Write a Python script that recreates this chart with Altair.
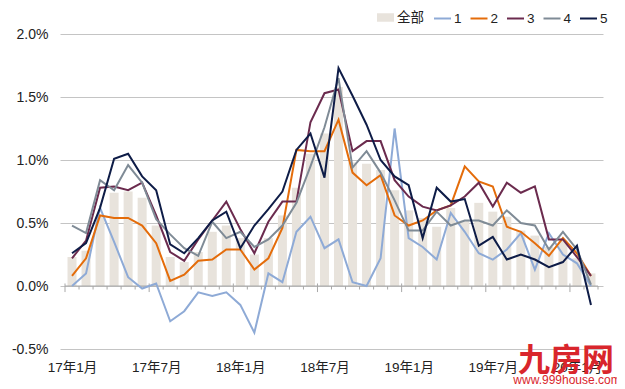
import json
import altair as alt
import pandas as pd

# ---------------- data ----------------
tick_labels = ["17年1月", "17年7月", "18年1月", "18年7月", "19年1月", "19年7月", "20年1月"]
n_months = 38  # 2017-01 .. 2020-02

all_vals = [0.23, 0.28, 0.55, 0.74, 0.75, 0.70, 0.48, 0.23, 0.19, 0.27,
            0.43, 0.48, 0.38, 0.25, 0.38, 0.56, 0.78, 1.05, 1.21, 1.58,
            0.98, 0.97, 0.92, 0.76, 0.60, 0.54, 0.47, 0.62, 0.52, 0.66,
            0.59, 0.55, 0.44, 0.40, 0.31, 0.36, 0.22, 0.10]
s1 = [0.00, 0.10, 0.62, 0.35, 0.07, -0.02, 0.02, -0.28, -0.20, -0.05,
      -0.08, -0.05, -0.15, -0.37, 0.10, 0.03, 0.43, 0.55, 0.30, 0.37,
      0.03, 0.00, 0.22, 1.25, 0.38, 0.31, 0.21, 0.58, 0.43, 0.26,
      0.21, 0.29, 0.42, 0.13, 0.42, 0.25, 0.18, 0.00]
s2 = [0.08, 0.22, 0.56, 0.54, 0.54, 0.48, 0.34, 0.04, 0.09, 0.20,
      0.21, 0.29, 0.29, 0.13, 0.22, 0.46, 1.08, 1.07, 1.07, 1.32,
      0.90, 0.80, 0.88, 0.56, 0.48, 0.52, 0.60, 0.64, 0.95, 0.83,
      0.79, 0.47, 0.43, 0.34, 0.24, 0.38, 0.26, 0.08]
s3 = [0.22, 0.36, 0.78, 0.79, 0.76, 0.82, 0.56, 0.27, 0.20, 0.37,
      0.52, 0.67, 0.45, 0.26, 0.51, 0.67, 0.67, 1.30, 1.53, 1.56,
      1.07, 1.15, 1.15, 0.84, 0.71, 0.63, 0.60, 0.64, 0.71, 0.82,
      0.63, 0.82, 0.74, 0.79, 0.37, 0.37, 0.23, 0.08]
s4 = [0.48, 0.42, 0.84, 0.76, 0.96, 0.82, 0.53, 0.41, 0.30, 0.24,
      0.51, 0.38, 0.43, 0.31, 0.37, 0.48, 0.66, 0.95, 1.26, 1.65,
      0.94, 1.07, 0.90, 0.68, 0.44, 0.44, 0.59, 0.48, 0.52, 0.52,
      0.48, 0.60, 0.50, 0.48, 0.29, 0.43, 0.29, 0.01]
s5 = [0.26, 0.34, 0.62, 1.01, 1.05, 0.87, 0.76, 0.33, 0.26, 0.38,
      0.52, 0.59, 0.30, 0.48, 0.61, 0.75, 1.08, 1.21, 0.86, 1.73,
      1.51, 1.28, 1.00, 0.87, 0.80, 0.38, 0.78, 0.67, 0.69, 0.32,
      0.39, 0.21, 0.25, 0.21, 0.15, 0.19, 0.32, -0.15]

bar_name = "全部"
series_names = ["1", "2", "3", "4", "5"]
series_vals = [s1, s2, s3, s4, s5]
series_colors = ["#8eaad6", "#e46c0a", "#6b2b4e", "#7f8b96", "#0e1c47"]
bar_color = "#e8e3dc"
y_ticks = [-0.5, 0.0, 0.5, 1.0, 1.5, 2.0]
watermark = "九房网"
watermark_url = "www.999house.com"

FONT = "Liberation Sans, Arial, Noto Sans CJK SC"
TXT = "#222222"

# ---------------- tables ----------------
idx = list(range(n_months))
bar_df = pd.DataFrame({"k": idx, "v": all_vals, "s": bar_name})
line_df = pd.DataFrame(
    [{"k": i, "v": v, "s": name, "o": j}
     for j, (name, vals) in enumerate(zip(series_names, series_vals))
     for i, v in enumerate(vals)]
)
tick_df = pd.DataFrame({
    "b": [i - 0.5 for i in range(n_months + 1)],
    "top": [0.02 if i % 6 == 0 else 0.0 for i in range(n_months + 1)],
    "bot": [-0.048 if i % 6 == 0 else -0.028 for i in range(n_months + 1)],
})
zero_df = pd.DataFrame({"x0": [-0.5], "x1": [n_months - 0.5], "y": [0.0]})

xscale = alt.Scale(domain=[-0.5, n_months - 0.5], nice=False, zero=False)
yscale = alt.Scale(domain=[-0.5, 2.0], nice=False, zero=False)

label_arr = json.dumps(tick_labels, ensure_ascii=False)
x_axis = alt.Axis(
    values=[i * 6 for i in range(len(tick_labels))],
    labelExpr=f"{label_arr}[round(datum.value/6)]",
    grid=False, ticks=False, domain=False, title=None,
    labelFont=FONT, labelFontSize=13.5, labelColor=TXT, labelPadding=11,
    labelFlush=False, labelOverlap=False,
)
y_axis = alt.Axis(
    values=y_ticks,
    labelExpr="(datum.value < 0 ? '-' : '') + format(abs(datum.value), '.1f') + '%'",
    grid=True, gridColor="#c4c4c4", gridWidth=1, ticks=False, domain=False,
    title=None, labelFont=FONT, labelFontSize=14, labelColor=TXT, labelPadding=12,
)

bars = alt.Chart(bar_df).mark_bar(size=9).encode(
    x=alt.X("k:Q", scale=xscale, axis=x_axis),
    y=alt.Y("v:Q", scale=yscale, axis=y_axis),
    fill=alt.Fill(
        "s:N",
        scale=alt.Scale(domain=[bar_name], range=[bar_color]),
        legend=alt.Legend(
            title=None, orient="none", legendX=317, legendY=-25,
            direction="horizontal",
            symbolType="M-1,-0.5H1V0.5H-1Z", symbolSize=289,
            symbolStrokeWidth=0, labelOffset=3,
            labelFont=FONT, labelFontSize=13.5, labelColor=TXT, padding=0,
        ),
    ),
)

zero = alt.Chart(zero_df).mark_rule(color="#a8a8a8", strokeWidth=1).encode(
    x=alt.X("x0:Q", scale=xscale), x2="x1:Q", y=alt.Y("y:Q", scale=yscale)
)
ticks = alt.Chart(tick_df).mark_rule(color="#a8a8a8", strokeWidth=1).encode(
    x=alt.X("b:Q", scale=xscale), y=alt.Y("top:Q", scale=yscale), y2="bot:Q"
)

lines = alt.Chart(line_df).mark_line(strokeWidth=2).encode(
    x=alt.X("k:Q", scale=xscale),
    y=alt.Y("v:Q", scale=yscale),
    order=alt.Order("k:Q"),
    stroke=alt.Stroke(
        "s:N",
        scale=alt.Scale(domain=series_names, range=series_colors),
        legend=alt.Legend(
            title=None, orient="none", legendX=373, legendY=-25,
            direction="horizontal", symbolType="stroke", symbolSize=289,
            symbolStrokeWidth=2, labelOffset=2, columnPadding=4.5,
            labelFont=FONT, labelFontSize=13.5, labelColor=TXT, padding=0,
        ),
    ),
)

wm = alt.Chart(pd.DataFrame({"t": [watermark]})).mark_text(
    font="Noto Sans CJK SC", fontSize=32, fontWeight="bold", color="#d9262c",
    align="center", baseline="alphabetic",
).encode(text="t:N", x=alt.value(506), y=alt.value(337))
wm2 = alt.Chart(pd.DataFrame({"t": [watermark_url]})).mark_text(
    font=FONT, fontSize=12, color="#d9262c", align="center",
    baseline="alphabetic",
).encode(text="t:N", x=alt.value(507), y=alt.value(350))

chart = alt.layer(bars, zero, ticks, lines, wm, wm2).resolve_scale(
    fill="independent", stroke="independent"
).properties(
    width=543, height=315,
    autosize=alt.AutoSizeParams(type="none"),
    padding={"left": 52, "top": 26, "right": 14, "bottom": 40},
).configure_view(stroke=None)

chart.save("out.html", embed_options={"renderer": "svg", "actions": False})
